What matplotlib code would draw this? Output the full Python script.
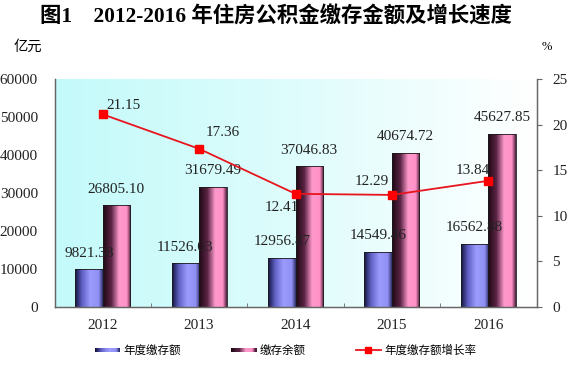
import numpy as np
import matplotlib
matplotlib.use("Agg")
import matplotlib.pyplot as plt
from matplotlib.colors import LinearSegmentedColormap
from matplotlib.lines import Line2D
from matplotlib.patches import Rectangle
from matplotlib.legend_handler import HandlerBase

plt.rcParams['font.family'] = ['Liberation Serif', 'Noto Sans CJK SC', 'DejaVu Sans']

years = ['2012', '2013', '2014', '2015', '2016']
deposit = [9821.38, 11526.03, 12956.87, 14549.46, 16562.88]
balance = [26805.10, 31679.49, 37046.83, 40674.72, 45627.85]
growth = [21.15, 17.36, 12.41, 12.29, 13.84]
deposit_labels = ['9821.38', '11526.03', '12956.87', '14549.46', '16562.88']
balance_labels = ['26805.10', '31679.49', '37046.83', '40674.72', '45627.85']
growth_labels = ['21.15', '17.36', '12.41', '12.29', '13.84']
left_ticks = [0, 10000, 20000, 30000, 40000, 50000, 60000]
right_ticks = [0, 5, 10, 15, 20, 25]
legend_names = ['年度缴存额', '缴存余额', '年度缴存额增长率']
title = '图1　2012-2016 年住房公积金缴存金额及增长速度'

blue_cmap = LinearSegmentedColormap.from_list('b', [(0, '#12123c'), (0.25, '#6060c4'), (0.55, '#9c9cff'), (0.85, '#9090f4'), (1, '#2c2c66')])
pink_cmap = LinearSegmentedColormap.from_list('p', [(0, '#1e0816'), (0.3, '#5a2444'), (0.58, '#ff99cc'), (0.85, '#ff92c8'), (1, '#4a1c3a')])
bg_cmap = LinearSegmentedColormap.from_list('bg', [(0, '#c4fafa'), (0.45, '#dcfcfc'), (1, '#ffffff')])

fig = plt.figure(figsize=(5.76, 3.67), dpi=100)
ax = fig.add_axes([54.5/576, 1-306.7/367, 482/576, (306.7-79.3)/367])
ax2 = ax.twinx()

x = np.arange(len(years))
w = 0.285

grad = np.linspace(0, 1, 256).reshape(1, -1)
ax.imshow(grad, cmap=bg_cmap, extent=[0, 1, 0, 1], transform=ax.transAxes, aspect='auto', zorder=0)

def gradient_bars(bars, cmap, z):
    for b in bars:
        x0, y0 = b.get_x(), b.get_y()
        bw, bh = b.get_width(), b.get_height()
        im = ax.imshow(grad, cmap=cmap, extent=[x0, x0+bw, y0, y0+bh], aspect='auto', zorder=z)
        im.set_clip_path(b)
        ax.add_patch(Rectangle((x0, y0), bw, bh, fill=False, edgecolor='#1a1a1a', lw=0.6, zorder=z+0.01))

bb = ax.bar(x - w/2, deposit, w, color='none', zorder=1)
pb = ax.bar(x + w/2, balance, w, color='none', zorder=2)
gradient_bars(bb, blue_cmap, 1)
gradient_bars(pb, pink_cmap, 2)
ax.set_xlim(-0.5, len(years)-0.5)
ax.set_ylim(0, 60000)
ax2.set_ylim(0, 25)

lab_font = dict(fontsize=11, color='#222222')
for i in range(len(years)):
    ax.annotate(deposit_labels[i], (x[i]-w/2, deposit[i]), xytext=(0, 11.5), textcoords='offset points',
                ha='center', va='center', zorder=4, **lab_font)
    ax.annotate(balance_labels[i], (x[i]+w/2, balance[i]), xytext=(0, 11.5), textcoords='offset points',
                ha='center', va='center', zorder=4, **lab_font)

g_off = [(15, 6.5), (17, 11.7), (-10, -10), (-14.5, 10), (-11, 7.2)]
for i in range(len(years)):
    ax.annotate(growth_labels[i], (x[i], growth[i]), xycoords=ax2.transData, xytext=g_off[i],
                textcoords='offset points', ha='center', va='center', zorder=4, **lab_font)

ax2.plot(x, growth, color='#e8141e', lw=1.3, marker='s', markersize=6, markerfacecolor='#ff0000',
         markeredgecolor='#ff0000', zorder=5)

for a in (ax, ax2):
    a.spines['top'].set_visible(False)
    for s in ('left', 'right', 'bottom'):
        a.spines[s].set_color('#666666')
        a.spines[s].set_linewidth(0.9)

ax.set_yticks(left_ticks)
ax.set_yticklabels([str(t) for t in left_ticks], fontsize=11, color='#222222')
ax.tick_params(axis='y', length=0, pad=12)
ax2.set_yticks(right_ticks)
ax2.set_yticklabels([str(t) for t in right_ticks], fontsize=11, color='#222222')
ax2.tick_params(axis='y', length=3.5, direction='out', pad=8, color='#666666')

ax.set_xticks(x)
ax.set_xticklabels(years, fontsize=11, color='#222222')
ax.set_xticks(np.arange(len(years)-1) + 0.5, minor=True)
ax.tick_params(axis='x', which='major', length=0, pad=9)
ax.tick_params(axis='x', which='minor', length=3, direction='in', color='#666666')

fig.text(40/576, 1-17/367, title, ha='left', va='center', fontsize=15.4, fontweight='bold',
         family=['Liberation Serif', 'Noto Sans CJK SC'])
fig.text(14/576, 1-47/367, '亿元', ha='left', va='center', fontsize=10.3, family=['Noto Sans CJK SC'])
fig.text(542/576, 1-47/367, '%', ha='left', va='center', fontsize=9, family=['Liberation Serif'])

class GradHandler(HandlerBase):
    def __init__(self, cmap):
        super().__init__()
        self.cmap = cmap
    def create_artists(self, legend, orig_handle, xdescent, ydescent, width, height, fontsize, trans):
        arts = []
        n = 24
        for k in range(n):
            r = Rectangle((-xdescent + width*k/n, -ydescent + height*0.22), width/n + 0.3, height*0.5,
                          facecolor=self.cmap(k/(n-1)), edgecolor='none', transform=trans)
            arts.append(r)
        return arts

h1 = Rectangle((0, 0), 1, 1)
h2 = Rectangle((0, 0), 1, 1)
h3 = Line2D([0], [0], color='#e8141e', lw=1.3, marker='s', markersize=5, markerfacecolor='#ff0000', markeredgecolor='#ff0000')
leg = fig.legend([h1, h2, h3], legend_names, loc='center left', bbox_to_anchor=(95/576, 1-350.5/367), ncol=3,
                 frameon=False, prop={'family': 'Noto Sans CJK SC', 'size': 8.3}, handlelength=2.17,
                 handletextpad=0.26, columnspacing=4.4, borderpad=0, borderaxespad=0,
                 handler_map={h1: GradHandler(blue_cmap), h2: GradHandler(pink_cmap)})

fig.savefig('out.png', dpi=100)
